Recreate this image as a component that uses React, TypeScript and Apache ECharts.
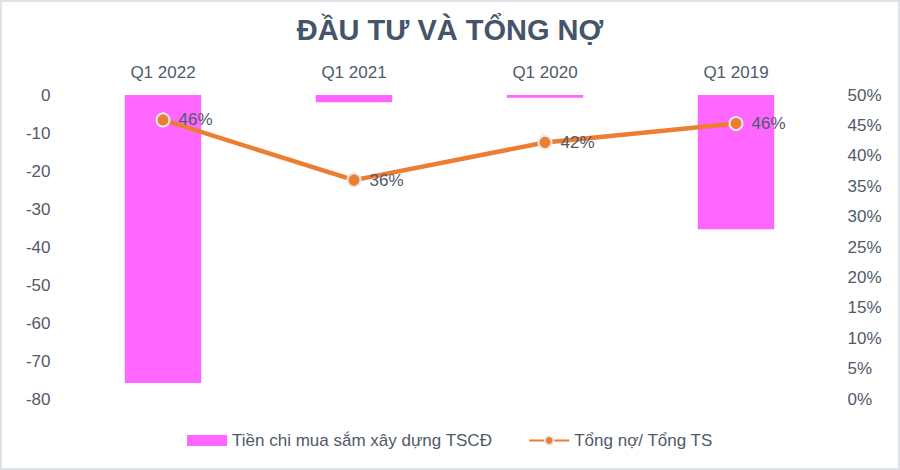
import React, { useEffect, useRef } from "react";
import * as echarts from "echarts";

const categories = ["Q1 2022", "Q1 2021", "Q1 2020", "Q1 2019"];
const capexValues = [-75.8, -1.9, -0.7, -35.3];
const debtRatio = [0.459, 0.36, 0.422, 0.453];
const debtLabels = ["46%", "36%", "42%", "46%"];

const TEXT = "#4f5a6a";
const FONT = "Liberation Sans, sans-serif";

export default function App() {
  const ref = useRef<HTMLDivElement>(null);
  useEffect(() => {
    document.body.style.margin = "0";
    const chart = echarts.init(ref.current!, null, { renderer: "svg" });
    chart.setOption({
      animation: false,
      backgroundColor: "#ffffff",
      textStyle: { fontFamily: FONT },
      title: {
        text: "ĐẦU TƯ VÀ TỔNG NỢ",
        left: "center",
        top: 8,
        textStyle: { fontSize: 29, fontWeight: "bold", color: "#44546a", fontFamily: FONT },
      },
      legend: {
        bottom: 14,
        left: "center",
        itemGap: 36,
        textStyle: { fontSize: 17, color: TEXT, fontFamily: FONT },
        data: [
          { name: "Tiền chi mua sắm xây dựng TSCĐ", icon: "rect", itemStyle: { color: "#ff66ff" } },
          { name: "Tổng nợ/ Tổng TS" },
        ],
        itemWidth: 40,
        itemHeight: 11,
      },
      grid: { left: 65.5, right: 66.5, top: 93, bottom: 69 },
      xAxis: {
        type: "category",
        data: categories,
        position: "top",
        axisLine: { show: false },
        axisTick: { show: false },
        axisLabel: { fontSize: 17, color: TEXT, margin: 14, fontFamily: FONT },
      },
      yAxis: [
        {
          type: "value",
          min: -80,
          max: 0,
          interval: 10,
          splitLine: { show: false },
          axisLine: { show: false },
          axisTick: { show: false },
          axisLabel: { fontSize: 17, color: TEXT, margin: 17, fontFamily: FONT },
        },
        {
          type: "value",
          min: 0,
          max: 0.5,
          interval: 0.05,
          position: "right",
          splitLine: { show: false },
          axisLine: { show: false },
          axisTick: { show: false },
          axisLabel: {
            fontSize: 17,
            color: TEXT,
            margin: 16,
            fontFamily: FONT,
            formatter: (v: number) => Math.round(v * 100) + "%",
          },
        },
      ],
      series: [
        {
          name: "Tiền chi mua sắm xây dựng TSCĐ",
          type: "bar",
          data: capexValues,
          barWidth: "40%",
          itemStyle: { color: "#ff66ff" },
        },
        {
          name: "Tổng nợ/ Tổng TS",
          type: "line",
          yAxisIndex: 1,
          data: debtRatio,
          symbol: "circle",
          symbolSize: 13,
          lineStyle: { color: "#ed7d31", width: 4.5 },
          itemStyle: { color: "#ed7d31", borderColor: "#e8e8e8", borderWidth: 2 },
          label: {
            show: true,
            position: "right",
            distance: 8,
            fontSize: 17,
            color: TEXT,
            fontFamily: FONT,
            formatter: (p: any) => debtLabels[p.dataIndex],
          },
        },
      ],
    });
    return () => chart.dispose();
  }, []);
  return (
    <div
      style={{
        width: 900,
        height: 470,
        boxSizing: "border-box",
        border: "2px solid #dde2e8",
        background: "#fff",
      }}
    >
      <div ref={ref} style={{ width: 896, height: 466 }} />
    </div>
  );
}
